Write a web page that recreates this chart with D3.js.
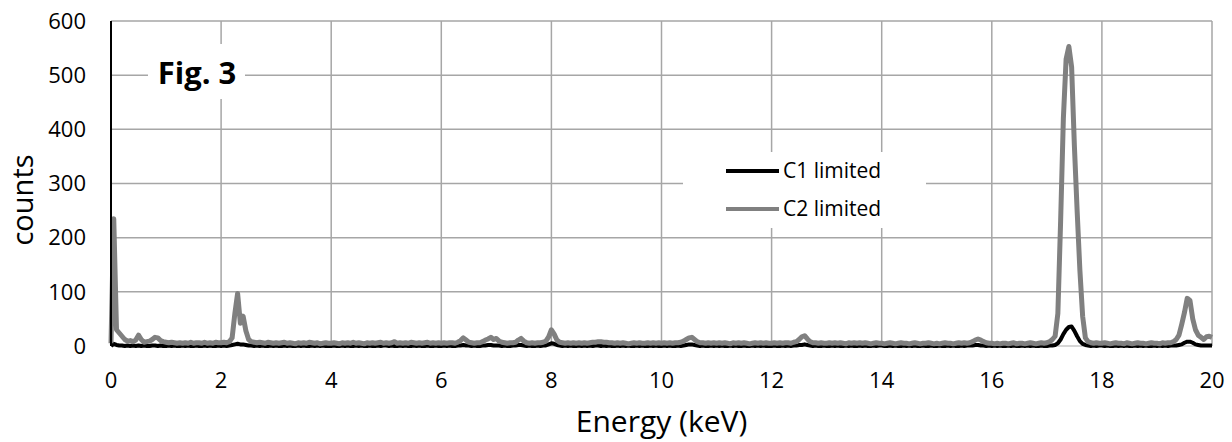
<!DOCTYPE html>
<html>
<head>
<meta charset="utf-8">
<script src="https://cdn.jsdelivr.net/npm/d3@7"></script>
<style>
    body { margin: 0; background: #fff; }
    text { font-family: "Open Sans", sans-serif; fill: #000; }
</style>
</head>
<body>
<div id="graph"></div>
<script>
// spectrum channels: one value every 0.05 keV, from 0 to 20 keV (one row = 1 keV)
const channelStep = 0.05;

const c1Counts = [
    0,4,2,1,1,0,1,0,1,0,1,0,1,0,0,1,1,0,1,0,
    0,1,0,1,0,0,1,0,1,0,0,1,0,0,1,0,1,0,0,1,
    0,1,0,1,2,3,4,3,3,2,1,1,0,1,0,1,0,0,1,0,
    1,0,0,1,0,1,0,0,1,0,1,0,0,1,0,1,0,1,0,0,
    0,1,0,0,1,0,1,0,0,1,0,1,0,0,1,0,0,1,0,1,
    1,0,1,0,0,1,0,1,0,0,1,0,1,0,0,1,0,0,1,0,
    0,1,0,1,0,0,1,1,2,1,1,0,1,0,0,1,1,2,2,1,
    1,1,0,1,0,0,1,1,2,2,1,0,1,0,0,1,0,1,1,3,
    5,4,2,1,0,1,0,1,0,0,1,0,1,0,1,0,1,1,0,1,
    0,1,0,0,1,0,1,0,1,0,0,1,0,1,0,0,1,0,1,0,
    0,1,0,1,0,0,1,0,1,2,3,3,2,1,0,1,0,0,1,0,
    1,0,1,0,0,1,0,1,0,0,1,0,0,1,0,1,0,1,0,0,
    0,1,0,0,1,0,1,0,1,1,2,2,3,2,1,0,1,0,0,1,
    0,0,1,0,1,0,0,1,0,1,0,0,1,0,1,0,0,1,0,1,
    1,0,0,1,0,1,0,0,1,0,1,0,1,0,0,1,0,0,1,0,
    0,1,0,0,1,0,1,0,0,1,0,1,1,1,2,2,1,1,0,1,
    0,1,0,1,0,0,1,0,1,0,0,1,0,1,0,1,0,0,1,0,
    0,1,1,2,5,12,22,30,35,36,28,18,9,4,2,1,0,1,0,1,
    1,0,1,0,0,1,0,1,0,1,0,0,1,0,1,0,1,0,0,1,
    0,1,0,1,0,1,1,1,2,3,6,8,8,6,3,2,1,1,1,1,
    1
];

const c2Counts = [
    5,235,30,24,18,12,9,10,8,11,20,12,7,8,9,12,16,15,10,8,
    7,6,7,6,5,6,5,6,5,7,5,6,6,5,7,5,6,5,7,6,
    6,7,6,8,15,60,97,42,55,28,12,8,7,6,7,6,5,7,6,5,
    6,5,6,7,5,6,5,4,6,5,6,5,7,6,5,6,4,5,6,5,
    5,6,5,4,6,5,6,5,7,5,6,5,4,6,5,6,5,6,7,5,
    6,5,6,8,5,6,5,6,5,7,6,5,6,5,6,7,5,6,5,6,
    5,6,5,6,6,5,7,10,15,11,7,6,5,6,6,8,11,13,16,12,
    14,9,7,6,5,6,6,7,11,14,9,6,5,6,5,6,6,7,9,17,
    30,22,11,7,6,5,6,5,6,5,6,5,6,5,6,7,7,8,8,7,
    7,6,6,5,6,5,6,5,4,5,6,5,6,5,5,6,5,6,5,6,
    5,6,5,6,5,6,6,7,9,12,15,16,12,8,6,6,5,6,5,6,
    5,6,5,6,5,4,6,5,6,5,6,5,4,5,6,5,6,5,6,5,
    5,6,5,6,5,6,6,5,7,8,12,17,19,13,8,6,6,5,6,5,
    5,6,5,6,5,6,5,4,6,5,6,5,6,5,6,5,4,5,6,5,
    5,4,5,6,5,4,5,6,5,5,4,5,6,5,4,5,5,6,5,4,
    5,4,5,6,5,5,4,5,6,5,6,5,6,8,11,13,11,8,6,5,
    5,4,5,4,5,5,4,5,6,4,5,5,4,5,6,5,4,5,6,5,
    6,8,12,18,60,230,420,530,553,515,370,250,140,55,15,8,6,5,6,5,
    5,6,5,4,5,6,5,5,4,6,5,4,5,6,5,5,4,5,6,5,
    5,4,6,5,6,6,8,12,20,40,62,88,84,50,30,20,16,12,17,18,
    16
];

const seriesNames = ["C1 limited", "C2 limited"];
const seriesColors = ["#000000", "#808080"];
const xTicks = [0, 2, 4, 6, 8, 10, 12, 14, 16, 18, 20];
const yTicks = [0, 100, 200, 300, 400, 500, 600];

const width = 1232, height = 442;
const plot = { left: 111, right: 1212, top: 21, bottom: 346 };

const svg = d3.select("#graph").append("svg")
    .attr("width", width)
    .attr("height", height);

const x = d3.scaleLinear().domain([0, 20]).range([plot.left, plot.right]);
const y = d3.scaleLinear().domain([0, 600]).range([plot.bottom, plot.top]);

// gridlines
svg.append("g")
    .selectAll("line")
    .data(xTicks.slice(1))
    .enter().append("line")
    .attr("x1", d => x(d)).attr("x2", d => x(d))
    .attr("y1", plot.top).attr("y2", plot.bottom)
    .attr("stroke", "#a6a6a6").attr("stroke-width", 1.5);

svg.append("g")
    .selectAll("line")
    .data(yTicks)
    .enter().append("line")
    .attr("x1", plot.left).attr("x2", plot.right)
    .attr("y1", d => y(d)).attr("y2", d => y(d))
    .attr("stroke", d => d === 0 ? "#c8c8c8" : "#a6a6a6").attr("stroke-width", 1.5);

// white boxes behind "Fig. 3" and the legend hide the gridlines
svg.append("rect")
    .attr("x", 148).attr("y", 44).attr("width", 97).attr("height", 55)
    .attr("fill", "#fff");
svg.append("rect")
    .attr("x", 683).attr("y", 152).attr("width", 243).attr("height", 76)
    .attr("fill", "#fff");

// spectra
const line = d3.line()
    .x((d, i) => x(i * channelStep))
    .y(d => y(d));

svg.append("path")
    .datum(c1Counts)
    .attr("d", line)
    .attr("fill", "none")
    .attr("stroke", seriesColors[0])
    .attr("stroke-width", 4)
    .attr("stroke-linejoin", "round");

svg.append("path")
    .datum(c2Counts)
    .attr("d", line)
    .attr("fill", "none")
    .attr("stroke", seriesColors[1])
    .attr("stroke-width", 5)
    .attr("stroke-linejoin", "round");

// left axis line
svg.append("line")
    .attr("x1", plot.left).attr("x2", plot.left)
    .attr("y1", plot.top).attr("y2", plot.bottom)
    .attr("stroke", "#000").attr("stroke-width", 2);

// tick labels
svg.append("g")
    .selectAll("text")
    .data(yTicks)
    .enter().append("text")
    .attr("x", 86)
    .attr("y", d => y(d))
    .attr("dy", "0.35em")
    .attr("text-anchor", "end")
    .style("font-size", "22px")
    .text(d => d);

svg.append("g")
    .selectAll("text")
    .data(xTicks)
    .enter().append("text")
    .attr("x", d => x(d))
    .attr("y", 388)
    .attr("text-anchor", "middle")
    .style("font-size", "22px")
    .text(d => d);

// axis titles
svg.append("text")
    .attr("x", x(10))
    .attr("y", 432)
    .attr("text-anchor", "middle")
    .style("font-size", "30px")
    .text("Energy (keV)");

svg.append("text")
    .attr("transform", "translate(33," + 200 + ") rotate(-90)")
    .attr("text-anchor", "middle")
    .style("font-size", "29px")
    .text("counts");

// figure label
svg.append("text")
    .attr("x", 197)
    .attr("y", 84)
    .attr("text-anchor", "middle")
    .style("font-size", "31px")
    .style("font-weight", "bold")
    .text("Fig. 3");

// legend
const legendY = [171, 209];
seriesNames.forEach((name, i) => {
    svg.append("line")
        .attr("x1", 726).attr("x2", 779)
        .attr("y1", legendY[i]).attr("y2", legendY[i])
        .attr("stroke", seriesColors[i])
        .attr("stroke-width", 4);
    svg.append("text")
        .attr("x", 783)
        .attr("y", legendY[i])
        .attr("dy", "0.35em")
        .style("font-size", "21px")
        .text(name);
});
</script>
</body>
</html>
